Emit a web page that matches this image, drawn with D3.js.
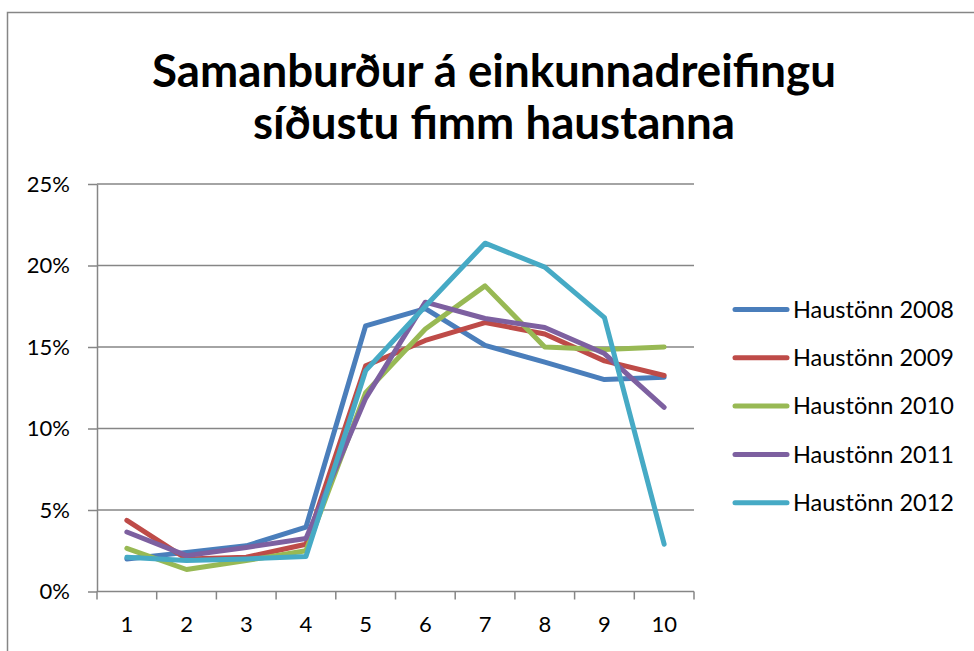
<!DOCTYPE html>
<html>
<head>
<meta charset="utf-8">
<script src="https://cdn.jsdelivr.net/npm/d3@7"></script>
<style>
  html, body { margin: 0; padding: 0; background: #fff; }
  svg { display: block; }
  text { font-family: Lato, "Open Sans", "Liberation Sans", sans-serif; fill: #000; }
</style>
</head>
<body>
<svg id="chart" width="974" height="651"></svg>
<script>
const titleLines = ["Samanburður á einkunnadreifingu", "síðustu fimm haustanna"];
const categories = ["1", "2", "3", "4", "5", "6", "7", "8", "9", "10"];
const yTicks = [0, 0.05, 0.10, 0.15, 0.20, 0.25];
const seriesNames = ["Haustönn 2008", "Haustönn 2009", "Haustönn 2010", "Haustönn 2011", "Haustönn 2012"];
const seriesColors = ["#4A7EBB", "#BE4B48", "#98B954", "#7D60A0", "#46AAC5"];
const values2008 = [0.020, 0.024, 0.028, 0.0395, 0.163, 0.1735, 0.151, 0.1407, 0.130, 0.1315];
const values2009 = [0.0436, 0.020, 0.021, 0.029, 0.1385, 0.154, 0.165, 0.158, 0.1415, 0.1325];
const values2010 = [0.0265, 0.0135, 0.019, 0.025, 0.122, 0.161, 0.1875, 0.150, 0.1485, 0.150];
const values2011 = [0.0365, 0.022, 0.027, 0.0325, 0.1185, 0.1775, 0.1675, 0.162, 0.146, 0.113];
const values2012 = [0.021, 0.019, 0.020, 0.0215, 0.1355, 0.175, 0.2137, 0.199, 0.168, 0.029];
const allValues = [values2008, values2009, values2010, values2011, values2012];

const svg = d3.select("#chart");
const gridColor = "#868686";

// outer chart border
svg.append("path")
  .attr("d", "M7.5,651 L7.5,12.5 L974,12.5")
  .attr("fill", "none").attr("stroke", gridColor).attr("stroke-width", 1.5);

const x = d3.scaleBand().domain(categories).range([97, 694]);
const y = d3.scaleLinear().domain([0, 0.25]).range([591.5, 184]);

// title
const title = svg.append("g");
titleLines.forEach((t, i) => {
  title.append("text")
    .attr("x", 494).attr("y", i === 0 ? 87 : 139)
    .attr("text-anchor", "middle")
    .style("font-weight", "bold")
    .style("font-size", "40px")
    .text(t);
});
// fit first title line width to ~684px
const t0 = title.select("text").node();
const w0 = t0.getComputedTextLength();
const fs = 40 * 684 / w0;
title.selectAll("text").style("font-size", fs + "px");

// gridlines
svg.append("g")
  .selectAll("line").data(yTicks.slice(1)).join("line")
  .attr("x1", 97).attr("x2", 694)
  .attr("y1", d => y(d)).attr("y2", d => y(d))
  .attr("stroke", gridColor).attr("stroke-width", 1.5);

// y axis
const yAxis = svg.append("g").attr("transform", "translate(97,0)")
  .call(d3.axisLeft(y).tickValues(yTicks).tickFormat(d3.format(".0%")).tickSizeOuter(0).tickSizeInner(9).tickPadding(18));
yAxis.select(".domain").attr("stroke", gridColor).attr("stroke-width", 1.5);
yAxis.selectAll(".tick line").attr("stroke", gridColor).attr("stroke-width", 1.5);
yAxis.selectAll(".tick text").style("font-size", "22px").style("font-family", "Lato, 'Open Sans', sans-serif").attr("fill", "#000");

// x axis
const xAxis = svg.append("g").attr("transform", "translate(0," + y(0) + ")")
  .call(d3.axisBottom(x).tickSize(0).tickPadding(25));
xAxis.select(".domain").attr("stroke", gridColor).attr("stroke-width", 1.5).attr("d", "M97,0H694");
xAxis.selectAll(".tick text").style("font-size", "22px").style("font-family", "Lato, 'Open Sans', sans-serif").attr("fill", "#000");
// boundary ticks between categories
const boundaries = categories.map(c => x(c)).concat([x.range()[1]]);
svg.append("g").selectAll("line").data(boundaries).join("line")
  .attr("x1", d => d).attr("x2", d => d)
  .attr("y1", y(0)).attr("y2", y(0) + 8)
  .attr("stroke", gridColor).attr("stroke-width", 1.5);

// lines
const line = d3.line()
  .x((d, i) => x(categories[i]) + x.bandwidth() / 2)
  .y(d => y(d));
svg.append("g").selectAll("path").data(allValues).join("path")
  .attr("d", d => line(d))
  .attr("fill", "none")
  .attr("stroke", (d, i) => seriesColors[i])
  .attr("stroke-width", 5)
  .attr("stroke-linejoin", "round")
  .attr("stroke-linecap", "round");

// legend
const legend = svg.append("g");
const lg = legend.selectAll("g").data(seriesNames).join("g")
  .attr("transform", (d, i) => "translate(0," + (309.5 + i * 48.3) + ")");
lg.append("line")
  .attr("x1", 735).attr("x2", 787).attr("y1", 0).attr("y2", 0)
  .attr("stroke", (d, i) => seriesColors[i]).attr("stroke-width", 5).attr("stroke-linecap", "round");
lg.append("text")
  .attr("x", 793).attr("y", 0).attr("dy", "0.35em")
  .style("font-size", "23.5px")
  .text(d => d);
</script>
</body>
</html>
